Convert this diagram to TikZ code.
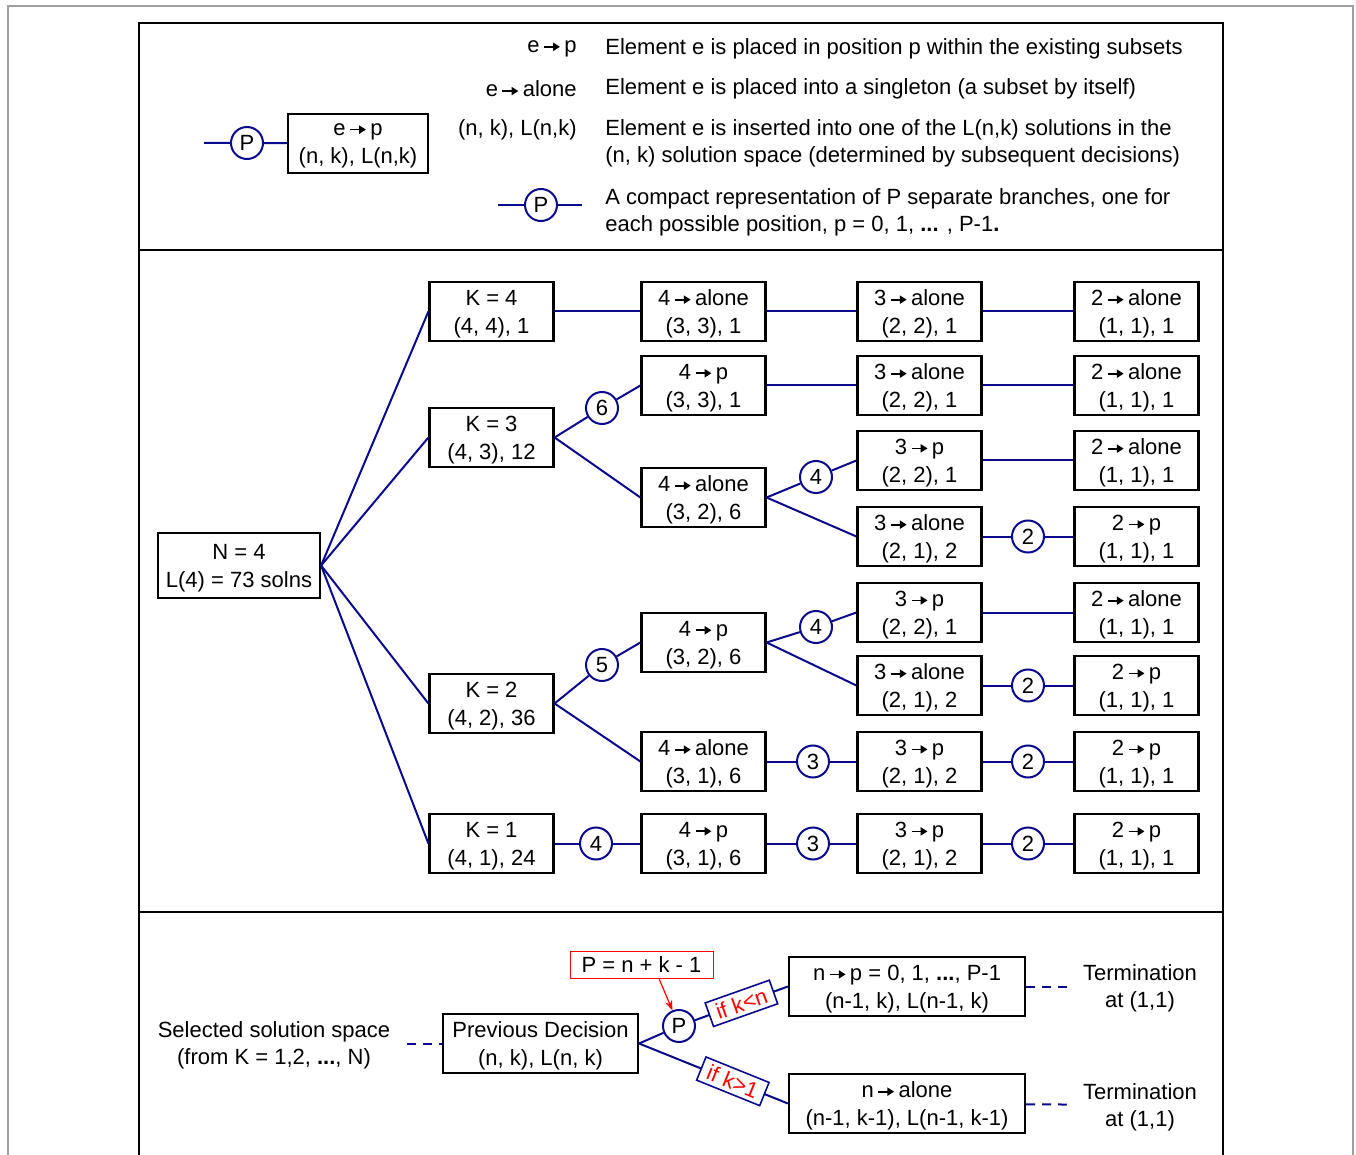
\documentclass[tikz,border=0pt]{standalone}
\usepackage{fontspec}
\setmainfont{Liberation Sans}
\usepackage{xcolor}
\usetikzlibrary{arrows.meta}

\definecolor{navyline}{RGB}{10,10,140}
\newcommand{\sendto}{\hspace{0.16em}\tikz[baseline=-2.9pt]\draw[black, line width=0.85pt, -{Triangle[length=3.4pt,width=4pt]}] (0pt,0pt) -- (8pt,0pt);\hspace{0.16em}}

\begin{document}
\begin{tikzpicture}[
      x=0.5pt, y=-0.5pt,
      font=\fontsize{11}{13.5}\selectfont,
      decbox/.style={draw, line width=1.1pt, align=center, minimum width=62pt,
                     minimum height=29.5pt, inner sep=1pt, text depth=0pt,
                     font=\fontsize{11}{14}\selectfont},
      branch/.style={circle, draw=navyline, fill=white, line width=1pt,
                     minimum size=16pt, inner sep=0pt},
      tlink/.style={draw=navyline, line width=1pt},
      dashlink/.style={tlink, dash pattern=on 4.5pt off 3.5pt},
      cond/.style={draw=navyline, fill=white, line width=0.8pt, text=red,
                   minimum width=34pt, minimum height=12.5pt, inner sep=1pt},
      legtext/.style={inner sep=0pt, align=left},
      textnote/.style={align=center, inner xsep=8pt, text depth=0pt}]
    \useasboundingbox (0,0) rectangle (1356,1155);
    \clip (0,0) rectangle (1356,1155);
    % frames
    \draw[gray!75, line width=0.75pt] (8,6) rectangle (1353,1180);
    \draw[line width=1pt] (139,23) rectangle (1223,1180);
    \draw[line width=1pt] (139,250) -- (1223,250);
    \draw[line width=1pt] (139,912) -- (1223,912);

    % legend
    \coordinate (lin) at (204,143);
    \node[branch] (lpc) at (247,143) {P};
    \node[decbox, minimum width=70pt] (lbox) at (358,143.5) {e\sendto p\\(n, k), L(n,k)};
    \draw[tlink] (lin) -- (lpc) -- (lbox);
    \node[legtext, anchor=east] (l1) at (577,49) {e\sendto p};
    \node[legtext, anchor=east] (l2) at (577,89) {e\sendto alone};
    \node[legtext, anchor=east] (l3) at (577,130) {(n, k), L(n,k)};
    \node[legtext, anchor=west] (d1) at (605,49) {Element e is placed in position p within the existing subsets};
    \node[legtext, anchor=west] (d2) at (605,89) {Element e is placed into a singleton (a subset by itself)};
    \node[legtext, anchor=west] (d3) at (605,143) {Element e is inserted into one of the L(n,k) solutions in the\\(n, k) solution space (determined by subsequent decisions)};
    \node[legtext, anchor=west] (d4) at (605,212) {A compact representation of P separate branches, one for\\each possible position, p = 0, 1, \textbf{...} , P-1\textbf{.}};
    \coordinate (ka) at (498,205);
    \node[branch] (kp) at (541,205) {P};
    \coordinate (kb) at (582,205);
    \draw[tlink] (ka) -- (kp) -- (kb);

    % decision tree
    \node[decbox, minimum width=81pt, minimum height=32.5pt] (root) at (239,565.5) {N = 4\\L(4) = 73 solns};
    \node[decbox] (k4) at (491.5,311.5) {K = 4\\(4, 4), 1};
    \node[decbox] (k3) at (491.5,437.5) {K = 3\\(4, 3), 12};
    \node[decbox] (k2) at (491.5,703.5) {K = 2\\(4, 2), 36};
    \node[decbox] (k1) at (491.5,843.5) {K = 1\\(4, 1), 24};

    \node[decbox] (a1) at (703.5,311.5) {4\sendto alone\\(3, 3), 1};
    \node[decbox] (a2) at (703.5,385.5) {4\sendto p\\(3, 3), 1};
    \node[decbox] (a3) at (703.5,497.5) {4\sendto alone\\(3, 2), 6};
    \node[decbox] (a4) at (703.5,642.5) {4\sendto p\\(3, 2), 6};
    \node[decbox] (a5) at (703.5,761.5) {4\sendto alone\\(3, 1), 6};
    \node[decbox] (a6) at (703.5,843.5) {4\sendto p\\(3, 1), 6};

    \node[decbox] (b1) at (919.5,311.5) {3\sendto alone\\(2, 2), 1};
    \node[decbox] (b2) at (919.5,385.5) {3\sendto alone\\(2, 2), 1};
    \node[decbox] (b3) at (919.5,460.5) {3\sendto p\\(2, 2), 1};
    \node[decbox] (b4) at (919.5,536.5) {3\sendto alone\\(2, 1), 2};
    \node[decbox] (b5) at (919.5,612.5) {3\sendto p\\(2, 2), 1};
    \node[decbox] (b6) at (919.5,685.5) {3\sendto alone\\(2, 1), 2};
    \node[decbox] (b7) at (919.5,761.5) {3\sendto p\\(2, 1), 2};
    \node[decbox] (b8) at (919.5,843.5) {3\sendto p\\(2, 1), 2};

    \node[decbox] (c1) at (1136.5,311.5) {2\sendto alone\\(1, 1), 1};
    \node[decbox] (c2) at (1136.5,385.5) {2\sendto alone\\(1, 1), 1};
    \node[decbox] (c3) at (1136.5,460.5) {2\sendto alone\\(1, 1), 1};
    \node[decbox] (c4) at (1136.5,536.5) {2\sendto p\\(1, 1), 1};
    \node[decbox] (c5) at (1136.5,612.5) {2\sendto alone\\(1, 1), 1};
    \node[decbox] (c6) at (1136.5,685.5) {2\sendto p\\(1, 1), 1};
    \node[decbox] (c7) at (1136.5,761.5) {2\sendto p\\(1, 1), 1};
    \node[decbox] (c8) at (1136.5,843.5) {2\sendto p\\(1, 1), 1};

    \node[branch] (m1) at (602,408) {6};
    \node[branch] (m2) at (602,665) {5};
    \node[branch] (m3) at (596,843.5) {4};
    \node[branch] (m4) at (816,477) {4};
    \node[branch] (m5) at (816,627) {4};
    \node[branch] (m6) at (813,761.5) {3};
    \node[branch] (m7) at (813,843.5) {3};
    \node[branch] (m8) at (1028,536.5) {2};
    \node[branch] (m9) at (1028,685.5) {2};
    \node[branch] (m10) at (1028,761.5) {2};
    \node[branch] (m11) at (1028,843.5) {2};

    \draw[tlink] (root.east) -- (k4.west);
    \draw[tlink] (root.east) -- (k3.west);
    \draw[tlink] (root.east) -- (k2.west);
    \draw[tlink] (root.east) -- (k1.west);
    \draw[tlink] (k4) -- (a1) -- (b1) -- (c1);
    \draw[tlink] (k3.east) -- (m1) -- (a2.west);
    \draw[tlink] (k3.east) -- (a3.west);
    \draw[tlink] (a2) -- (b2) -- (c2);
    \draw[tlink] (a3.east) -- (m4) -- (b3.west);
    \draw[tlink] (a3.east) -- (b4.west);
    \draw[tlink] (b3) -- (c3);
    \draw[tlink] (b4) -- (m8) -- (c4);
    \draw[tlink] (k2.east) -- (m2) -- (a4.west);
    \draw[tlink] (k2.east) -- (a5.west);
    \draw[tlink] (a4.east) -- (m5) -- (b5.west);
    \draw[tlink] (a4.east) -- (b6.west);
    \draw[tlink] (b5) -- (c5);
    \draw[tlink] (b6) -- (m9) -- (c6);
    \draw[tlink] (a5) -- (m6) -- (b7) -- (m10) -- (c7);
    \draw[tlink] (k1) -- (m3) -- (a6) -- (m7) -- (b8) -- (m11) -- (c8);

    % general rule
    \node[textnote] (sel) at (274,1043.5) {Selected solution space\\(from K = 1,2, \textbf{...}, N)};
    \node[decbox, minimum width=97.5pt] (prev) at (540.5,1043.5) {Previous Decision\\(n, k), L(n, k)};
    \node[branch] (pc) at (679,1026) {P};
    \node[decbox, minimum width=118pt] (up) at (907,986.5) {n\sendto p = 0, 1, \textbf{...}, P-1\\(n-1, k), L(n-1, k)};
    \node[decbox, minimum width=118pt] (low) at (907,1103.5) {n\sendto alone\\(n-1, k-1), L(n-1, k-1)};
    \node[textnote] (t1) at (1140,986.5) {Termination\\at (1,1)};
    \node[textnote] (t2) at (1140,1105) {Termination\\at (1,1)};
    \node[draw=red, line width=0.5pt, minimum width=71.5pt, minimum height=13.5pt, inner sep=1pt] (form) at (641.5,964.5) {P = n + k - 1};
    \draw[dashlink] (sel.east) -- (prev.west);
    \draw[tlink] (prev.east) -- (pc) -- node[cond, rotate=19.5] {if k<n} (up.west);
    \draw[tlink] (prev.east) -- node[cond, pos=0.63, rotate=-22] {if k>1} (low.west);
    \draw[dashlink] (up) -- (t1);
    \draw[dashlink] (low) -- (t2);
    \draw[red, line width=0.6pt, -{Stealth[length=5pt]}] ([xshift=8.75pt]form.south) -- (pc);
\end{tikzpicture}
\end{document}
